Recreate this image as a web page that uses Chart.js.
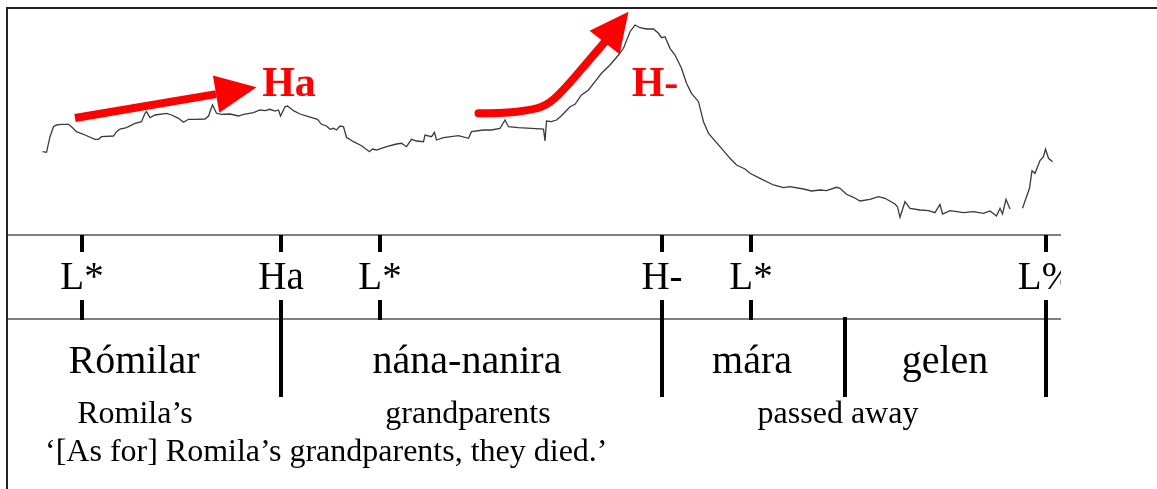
<!DOCTYPE html>
<html>
<head>
<meta charset="utf-8">
<script src="https://cdn.jsdelivr.net/npm/chart.js@4"></script>
<style>
  html, body { margin: 0; padding: 0; background: #fff; }
  #wrap { width: 1157px; height: 489px; position: relative; }
</style>
</head>
<body>
<div id="wrap"><canvas id="chart"></canvas></div>
<script>
// pitch track (time in s, F0 in Hz); null = voicing break
const pitchTimes = [
  0.069, 0.077, 0.084, 0.091, 0.097, 0.107, 0.121, 0.127, 0.137, 0.154,
  0.174, 0.181, 0.187, 0.211, 0.217, 0.224, 0.237, 0.254, 0.267, 0.274,
  0.277, 0.284, 0.294, 0.317, 0.327, 0.341, 0.351, 0.361, 0.374, 0.394,
  0.401, 0.409, 0.417, 0.427, 0.444, 0.461, 0.471, 0.491, 0.504, 0.514,
  0.524, 0.534, 0.541, 0.545, 0.554, 0.559, 0.571, 0.584, 0.601, 0.619,
  0.627, 0.637, 0.644, 0.651, 0.657, 0.664, 0.671, 0.677, 0.691, 0.707,
  0.723, 0.729, 0.737, 0.757, 0.777, 0.787, 0.797, 0.807, 0.817, 0.831,
  0.834, 0.847, 0.853, 0.857, 0.871, 0.901, 0.921, 0.927, 0.951, 0.967,
  0.984, 0.994, 1.001, 1.021, 1.047, 1.071, 1.074, 1.077, 1.087, 1.097,
  1.107, 1.124, 1.134, 1.147, 1.161, 1.174, 1.187, 1.204, 1.221, 1.231,
  1.244, 1.254, 1.264, 1.277, 1.291, 1.301, 1.307, 1.314, 1.324, 1.334,
  1.347, 1.357, 1.367, 1.381, 1.391, 1.401, 1.424, 1.444, 1.457, 1.474,
  1.484, 1.504, 1.531, 1.551, 1.564, 1.591, 1.607, 1.624, 1.637, 1.657,
  1.664, 1.677, 1.691, 1.704, 1.724, 1.741, 1.754, 1.774, 1.779, 1.784,
  1.794, 1.804, 1.824, 1.841, 1.854, 1.864, 1.869, 1.884, 1.911, 1.931,
  1.951, 1.964, 1.977, 1.984, 1.989, 1.996, 2.004, 2.016, 2.029, 2.043,
  2.048, 2.054, 2.064, 2.071, 2.075, 2.081, 2.089
];
const pitchHz = [
  133.3, 132.7, 148.3, 158.3, 160.0, 160.7, 160.7, 158.3, 153.3, 150.0,
  145.7, 145.7, 148.3, 149.0, 153.3, 156.0, 157.3, 161.7, 163.3, 171.7,
  173.3, 167.3, 170.0, 171.7, 170.0, 166.7, 162.7, 165.7, 165.7, 166.0,
  169.0, 180.0, 171.7, 170.7, 171.0, 169.0, 170.7, 172.3, 175.0, 174.3,
  175.7, 174.0, 175.0, 169.0, 178.3, 179.0, 174.3, 171.0, 168.3, 165.7,
  160.7, 159.0, 155.7, 156.7, 155.0, 159.0, 158.3, 147.7, 143.3, 139.3,
  133.3, 136.0, 135.0, 138.3, 141.0, 141.7, 138.3, 145.7, 144.0, 143.3,
  150.0, 148.3, 152.7, 145.0, 147.3, 149.3, 146.7, 153.3, 155.0, 155.0,
  156.7, 165.0, 158.3, 157.3, 156.7, 156.0, 144.0, 164.0, 163.3, 165.0,
  169.3, 178.3, 180.7, 190.0, 195.0, 203.3, 211.7, 220.0, 230.0, 236.7,
  253.3, 260.0, 257.3, 256.0, 256.0, 251.7, 247.3, 248.3, 236.7, 230.0,
  216.7, 201.7, 191.7, 183.3, 163.3, 151.7, 138.3, 126.7, 120.0, 116.0,
  111.7, 106.7, 100.0, 97.3, 98.3, 96.0, 94.0, 95.0, 94.3, 97.7,
  96.7, 90.7, 87.7, 84.0, 85.7, 88.3, 86.7, 81.0, 78.3, 67.7,
  83.3, 76.7, 75.0, 74.3, 72.3, 80.7, 71.0, 74.3, 72.3, 73.3,
  71.7, 74.0, 69.0, 76.7, 71.0, 85.7, 76.0, null, 76.7, 96.7,
  114.3, 111.7, 124.5, 128.3, 136.0, 126.7, 123.3
];

// tone tier
const tones = ['L*', 'Ha', 'L*', 'H-', 'L*', 'L%'];
const toneTimes = [0.148, 0.546, 0.744, 1.308, 1.486, 2.076];

// word tier
const words = ['Rómilar', 'nána-nanira', 'mára', 'gelen'];
const wordCenters = [0.252, 0.918, 1.488, 1.874];
const wordBounds = [0.546, 1.308, 1.674, 2.076];

// glosses and free translation
const glosses = ['Romila’s', 'grandparents', 'passed away'];
const glossCenters = [0.254, 0.92, 1.66];
const translation = '‘[As for] Romila’s grandparents, they died.’';
const translationStart = 0.074;

// red annotation arrows (time, Hz); last point is the tip
const arrowRiseT = [0.134, 0.497];
const arrowRiseHz = [167, 197.7];
const arrowPeakT = [0.941, 0.984, 1.051, 1.084, 1.117, 1.157, 1.197, 1.241];
const arrowPeakHz = [171.7, 171.7, 175, 181.7, 198.3, 221.7, 245, 273.3];
const arrowLabels = ['Ha', 'H-'];
const arrowLabelT = [0.562, 1.294];
const arrowLabelHz = [200, 200];

const SERIF = '"Liberation Serif", "Times New Roman", serif';

const pitchData = pitchTimes.map((t, i) => ({ x: t, y: pitchHz[i] }));

function drawArrow(ctx, xs, ys, ts, hz, opts) {
  const pts = ts.map((t, i) => [xs.getPixelForValue(t), ys.getPixelForValue(hz[i])]);
  const tip = pts[pts.length - 1];
  const prev = pts[pts.length - 2];
  const dx = tip[0] - prev[0], dy = tip[1] - prev[1];
  const len = Math.hypot(dx, dy);
  const ux = dx / len, uy = dy / len;
  const base = [tip[0] - ux * opts.headLen, tip[1] - uy * opts.headLen];
  const shaft = pts.slice(0, -1).concat([base]);

  ctx.save();
  ctx.strokeStyle = '#ff0000';
  ctx.fillStyle = '#ff0000';
  ctx.lineWidth = opts.width;
  ctx.lineCap = opts.cap;
  ctx.lineJoin = 'round';
  ctx.beginPath();
  ctx.moveTo(shaft[0][0], shaft[0][1]);
  if (shaft.length > 2) {
    for (let i = 1; i < shaft.length - 1; i++) {
      const mx = (shaft[i][0] + shaft[i + 1][0]) / 2;
      const my = (shaft[i][1] + shaft[i + 1][1]) / 2;
      ctx.quadraticCurveTo(shaft[i][0], shaft[i][1], mx, my);
    }
  }
  ctx.lineTo(base[0], base[1]);
  ctx.stroke();

  ctx.beginPath();
  ctx.moveTo(tip[0], tip[1]);
  ctx.lineTo(base[0] - uy * opts.headHalf, base[1] + ux * opts.headHalf);
  ctx.lineTo(base[0] + uy * opts.headHalf, base[1] - ux * opts.headHalf);
  ctx.closePath();
  ctx.fill();
  ctx.restore();
}

const tierPlugin = {
  id: 'tiers',
  afterDatasetsDraw(chart) {
    const ctx = chart.ctx;
    const xs = chart.scales.x, ys = chart.scales.y;
    const area = chart.chartArea;
    const line1 = area.bottom;
    const line2 = line1 + 84;
    const boundBottom = line1 + 162;

    // arrows and their labels
    drawArrow(ctx, xs, ys, arrowRiseT, arrowRiseHz, { width: 8, headLen: 41, headHalf: 19, cap: 'butt' });
    drawArrow(ctx, xs, ys, arrowPeakT, arrowPeakHz, { width: 8, headLen: 39, headHalf: 19, cap: 'round' });
    ctx.save();
    ctx.fillStyle = '#ff0000';
    ctx.font = 'bold 42px ' + SERIF;
    ctx.textAlign = 'center';
    ctx.textBaseline = 'middle';
    arrowLabels.forEach((s, i) => {
      ctx.fillText(s, xs.getPixelForValue(arrowLabelT[i]), ys.getPixelForValue(arrowLabelHz[i]));
    });
    ctx.restore();

    ctx.save();
    // tier lines
    ctx.strokeStyle = '#555';
    ctx.lineWidth = 1.5;
    [line1, line2].forEach(y => {
      ctx.beginPath();
      ctx.moveTo(area.left, y);
      ctx.lineTo(area.right, y);
      ctx.stroke();
    });

    ctx.beginPath();
    ctx.rect(0, 0, area.right, chart.height);
    ctx.clip();

    // tone ticks and labels
    ctx.strokeStyle = '#000';
    ctx.lineWidth = 4;
    ctx.lineCap = 'butt';
    ctx.fillStyle = '#000';
    ctx.font = '39px ' + SERIF;
    ctx.textAlign = 'center';
    ctx.textBaseline = 'alphabetic';
    tones.forEach((s, i) => {
      const x = Math.round(xs.getPixelForValue(toneTimes[i]));
      const isBound = wordBounds.includes(toneTimes[i]);
      ctx.beginPath();
      ctx.moveTo(x, line1);
      ctx.lineTo(x, line1 + 17);
      ctx.moveTo(x, line1 + 65);
      ctx.lineTo(x, isBound ? boundBottom : line2 + 1);
      ctx.stroke();
      ctx.fillText(s, x, line1 + 54);
    });

    // word boundaries not tied to a tone
    wordBounds.forEach(t => {
      if (toneTimes.includes(t)) return;
      const x = Math.round(xs.getPixelForValue(t));
      ctx.beginPath();
      ctx.moveTo(x, line2 - 2);
      ctx.lineTo(x, boundBottom);
      ctx.stroke();
    });

    ctx.font = '40px ' + SERIF;
    words.forEach((s, i) => {
      ctx.fillText(s, xs.getPixelForValue(wordCenters[i]), line1 + 138);
    });

    ctx.font = '32px ' + SERIF;
    glosses.forEach((s, i) => {
      ctx.fillText(s, xs.getPixelForValue(glossCenters[i]), line1 + 188);
    });
    ctx.textAlign = 'left';
    ctx.fillText(translation, xs.getPixelForValue(translationStart), line1 + 226);
    ctx.restore();

    // frame
    ctx.save();
    ctx.strokeStyle = '#222';
    ctx.lineWidth = 2;
    ctx.beginPath();
    ctx.moveTo(7, chart.height);
    ctx.lineTo(7, 8);
    ctx.lineTo(chart.width, 8);
    ctx.stroke();
    ctx.restore();
  }
};

new Chart(document.getElementById('chart'), {
  type: 'line',
  data: {
    datasets: [{
      label: 'F0',
      data: pitchData,
      borderColor: '#3a3a3a',
      borderWidth: 1.3,
      pointRadius: 0,
      tension: 0,
      spanGaps: false,
      fill: false
    }]
  },
  options: {
    responsive: true,
    maintainAspectRatio: false,
    animation: false,
    events: [],
    layout: {
      padding: { left: 8, top: 9, right: 96, bottom: 254 }
    },
    plugins: {
      legend: { display: false },
      tooltip: { enabled: false },
      title: { display: false }
    },
    scales: {
      x: { type: 'linear', min: 0, max: 2.106, display: false },
      y: { type: 'linear', min: 50, max: 276, display: false }
    }
  },
  plugins: [tierPlugin]
});
</script>
</body>
</html>
